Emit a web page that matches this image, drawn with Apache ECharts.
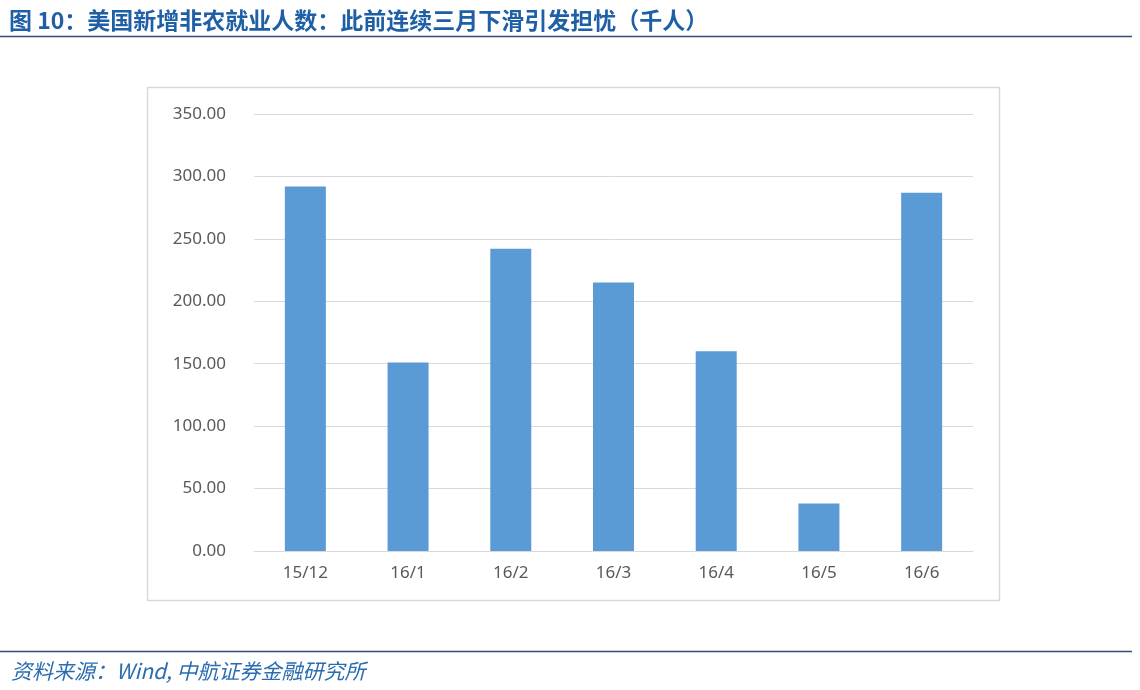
<!DOCTYPE html>
<html><head><meta charset="utf-8">
<script src="https://cdn.jsdelivr.net/npm/echarts@6/dist/echarts.min.js"></script>
<style>html,body{margin:0;padding:0;background:#fff}#c{width:1140px;height:690px}</style>
</head><body><div id="c"></div>
<script>
const categories = ['15/12','16/1','16/2','16/3','16/4','16/5','16/6'];
const values = [292, 151, 242, 215, 160, 38, 287];
const titleText = '图 10：美国新增非农就业人数：此前连续三月下滑引发担忧（千人）';
const sourceText = '资料来源：Wind, 中航证券金融研究所';

const chart = echarts.init(document.getElementById('c'));
chart.setOption({
  backgroundColor: '#fff',
  animation: false,
  title: [{
    text: titleText, left: 4, top: 4,
    textStyle: {fontFamily: 'Noto Sans CJK SC', fontWeight: 'bold', fontSize: 23, color: '#1f5fa6'}
  }, {
    text: sourceText, left: 6, top: 656,
    textStyle: {fontFamily: 'Noto Sans CJK SC', fontStyle: 'italic', fontWeight: 'normal', fontSize: 21, color: '#2a6cb0'}
  }],
  graphic: [
    {type: 'line', shape: {x1: 0, y1: 36.5, x2: 1132, y2: 36.5}, style: {stroke: '#3a4a7a', lineWidth: 1.5}},
    {type: 'line', shape: {x1: 0, y1: 651.5, x2: 1132, y2: 651.5}, style: {stroke: '#3a4a7a', lineWidth: 1.5}},
    {type: 'rect', shape: {x: 147.5, y: 87.5, width: 852, height: 513}, style: {fill: 'none', stroke: '#d9d9d9', lineWidth: 1.5}, z: -1}
  ],
  grid: {left: 254, right: 167, top: 114, bottom: 139},
  xAxis: {
    type: 'category', data: categories,
    axisLine: {show: true, lineStyle: {color: '#d9d9d9', width: 1}},
    axisTick: {show: false},
    axisLabel: {color: '#595959', fontSize: 17, margin: 14, fontFamily: 'Noto Sans'}
  },
  yAxis: {
    type: 'value', min: 0, max: 350, interval: 50,
    axisLine: {show: false}, axisTick: {show: false},
    splitLine: {lineStyle: {color: '#d9d9d9', width: 1}},
    axisLabel: {color: '#595959', fontSize: 17, margin: 28, fontFamily: 'Noto Sans',
      formatter: v => v.toFixed(2)}
  },
  series: [{
    type: 'bar', data: values, barWidth: 41,
    itemStyle: {color: '#5b9bd5'}
  }]
});
</script></body></html>
